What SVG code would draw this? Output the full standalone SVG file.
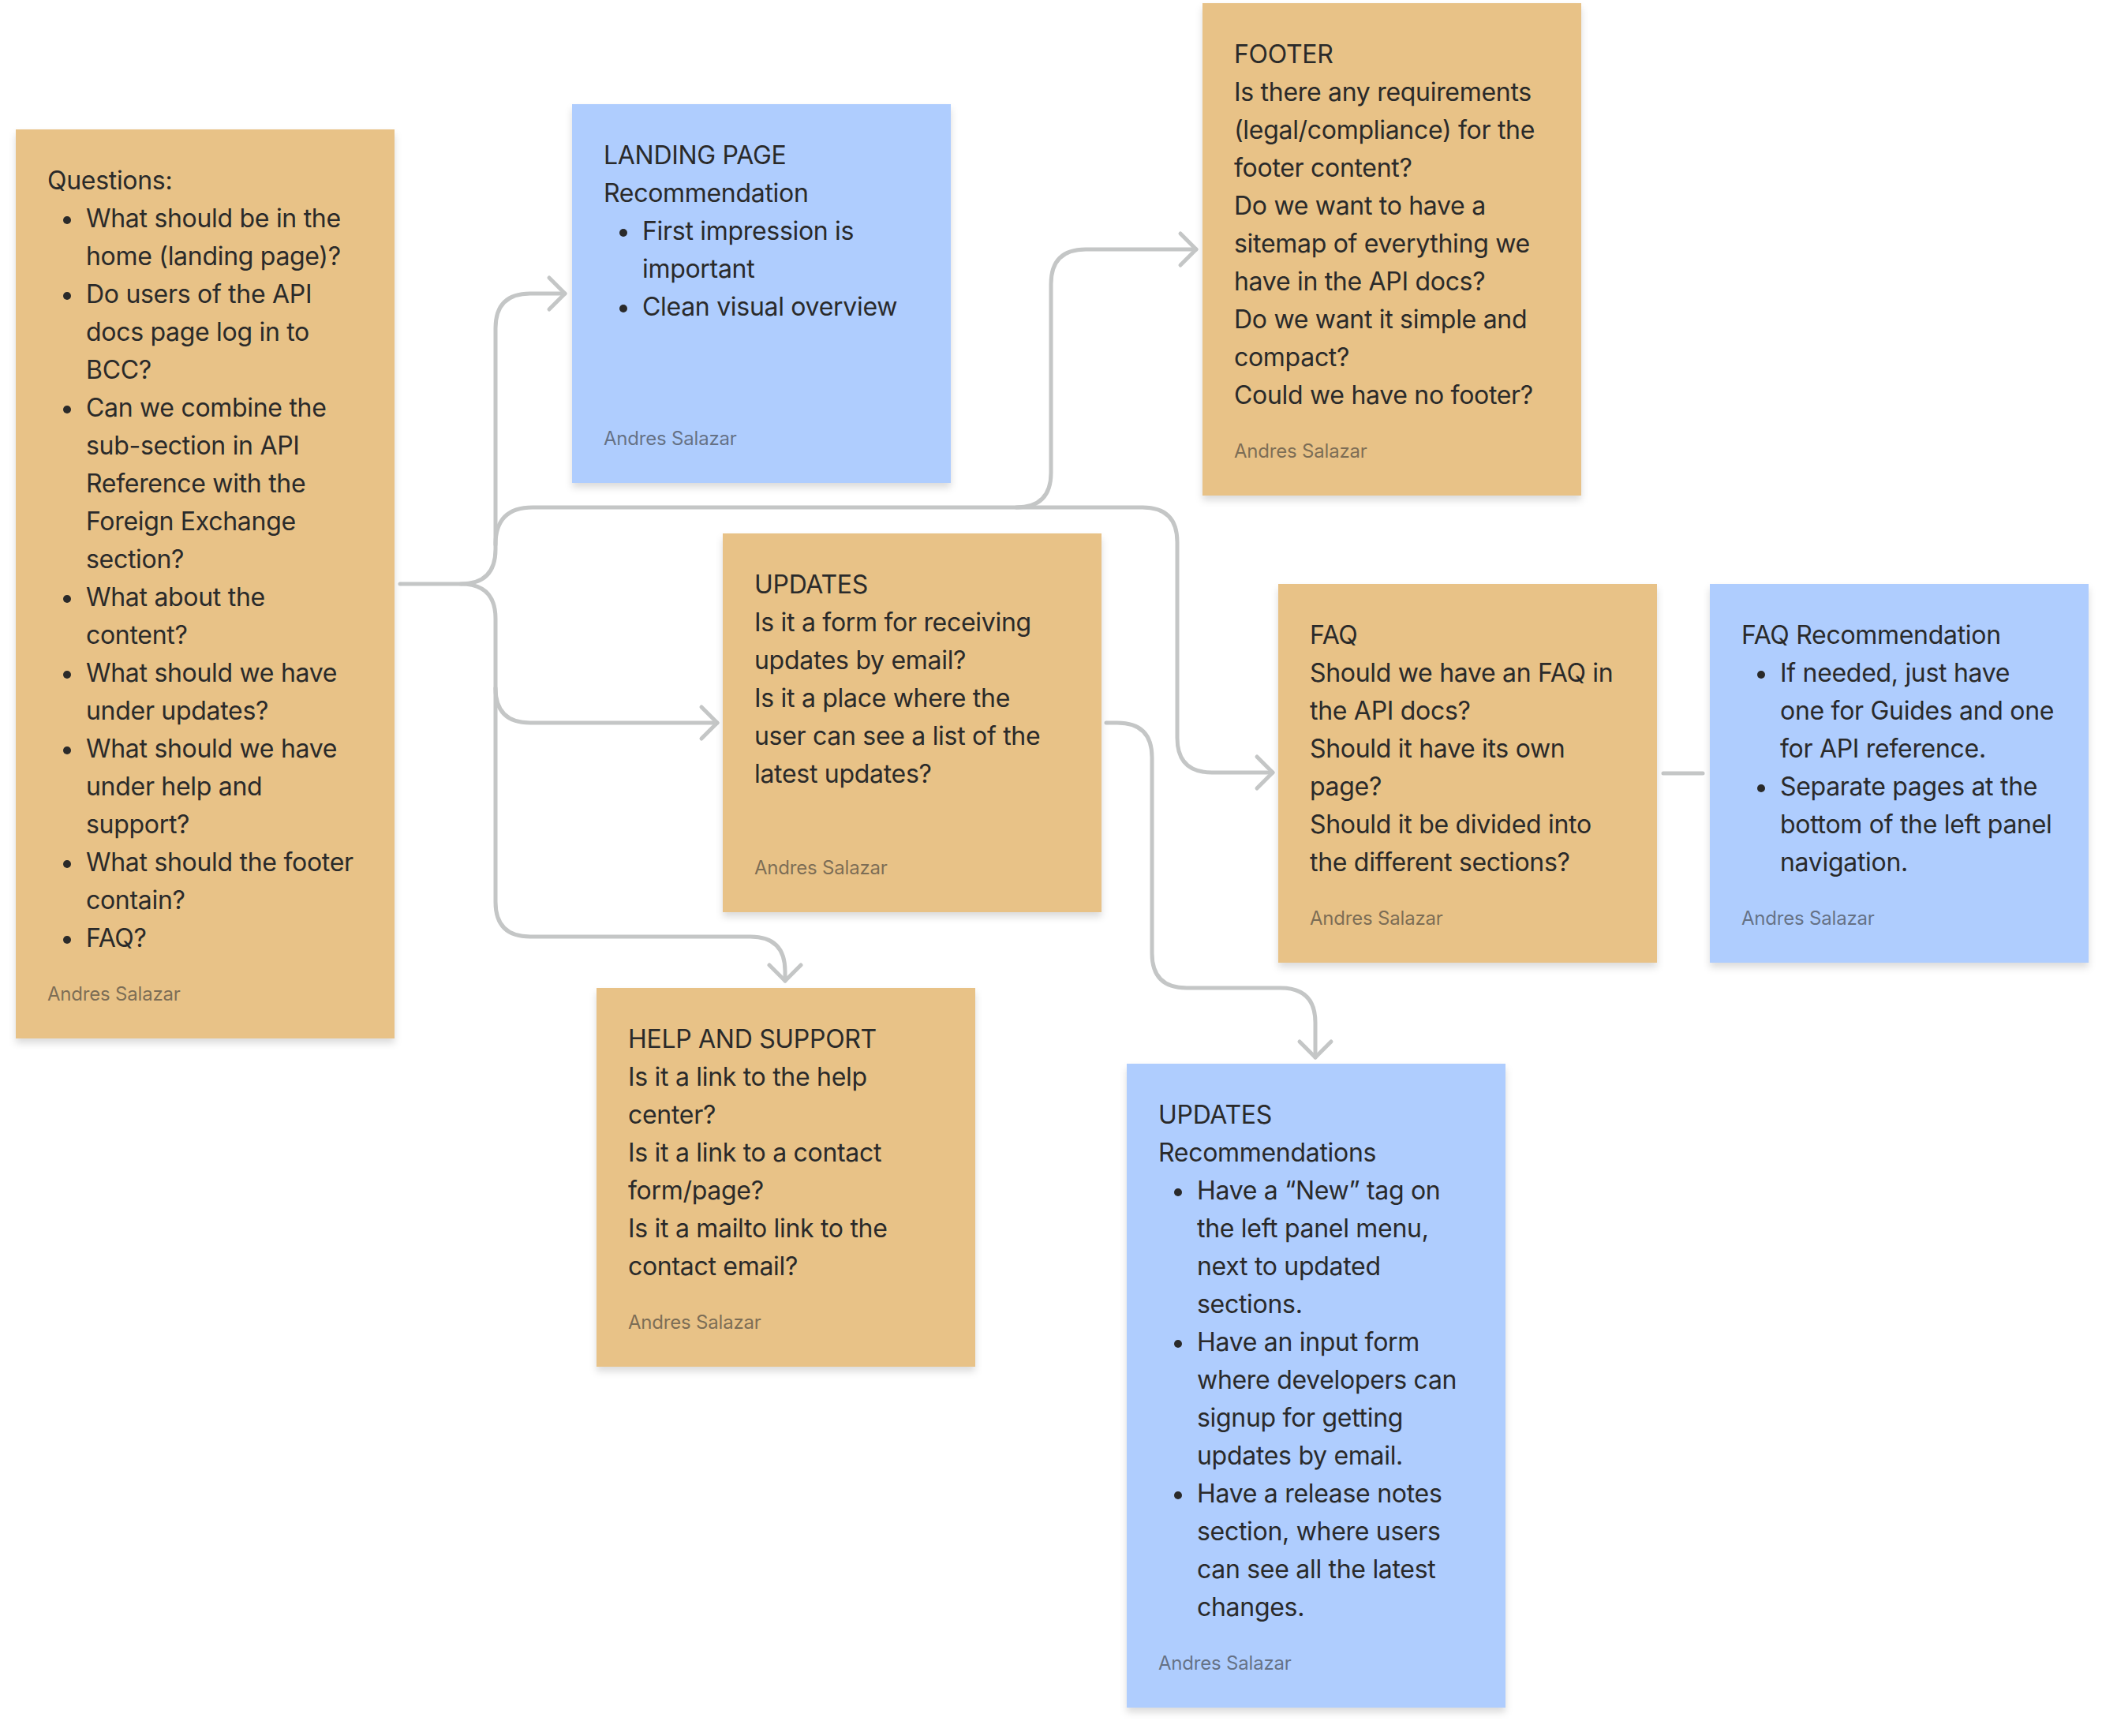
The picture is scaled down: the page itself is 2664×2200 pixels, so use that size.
<svg xmlns="http://www.w3.org/2000/svg" width="2664" height="2200" viewBox="0 0 2664 2200">
<style>
  .orange { fill: #E8C287; }
  .blue { fill: #AFCDFE; }
  .t { font-family: Inter, "Noto Sans", "Liberation Sans", sans-serif; font-size: 32px; letter-spacing: -0.3px; fill: #2a2a2a; }
  .a { font-family: Inter, "Noto Sans", "Liberation Sans", sans-serif; font-size: 24px; letter-spacing: -0.2px; fill: #333333; fill-opacity: 0.6; }
  .b { fill: #2a2a2a; }
  .c { fill: none; stroke: #C4C6C6; stroke-width: 5; stroke-linecap: round; stroke-linejoin: round; }
</style>
<defs>
  <filter id="sh" x="-10%" y="-10%" width="120%" height="125%">
    <feDropShadow dx="0" dy="6" stdDeviation="5" flood-color="#000" flood-opacity="0.14"/>
  </filter>
  <marker id="arr" markerUnits="userSpaceOnUse" viewBox="-26 -26 30 52" markerWidth="30" markerHeight="52" refX="0" refY="0" orient="auto" overflow="visible">
    <path d="M-20,-20 L0,0 L-20,20" fill="none" stroke="#C4C6C6" stroke-width="5" stroke-linecap="round" stroke-linejoin="round"/>
  </marker>
</defs>
<rect width="2664" height="2200" fill="#ffffff"/>

<g id="connectors">
  <path class="c" d="M507,740 H584 Q628,740 628,696 V416 Q628,372 672,372 H716" marker-end="url(#arr)"/>
  <path class="c" d="M584,740 Q628,740 628,784 V872 Q628,916 672,916 H909" marker-end="url(#arr)"/>
  <path class="c" d="M628,872 V1143 Q628,1187 672,1187 H951 Q995,1187 995,1231 V1243" marker-end="url(#arr)"/>
  <path class="c" d="M628,690 Q628,643 675,643 H1288 Q1332,643 1332,599 V360 Q1332,316 1376,316 H1516" marker-end="url(#arr)"/>
  <path class="c" d="M1288,643 H1448 Q1492,643 1492,687 V935 Q1492,979 1536,979 H1613" marker-end="url(#arr)"/>
  <path class="c" d="M1402,916 H1416 Q1460,916 1460,960 V1208 Q1460,1252 1504,1252 H1623 Q1667,1252 1667,1296 V1340" marker-end="url(#arr)"/>
  <path class="c" d="M2108,980 H2158"/>
</g>

<g id="questions">
  <rect class="orange" x="20" y="164" width="480" height="1152" filter="url(#sh)"/>
  <text class="t" x="60" y="240">Questions:</text>
  <g class="b">
    <circle cx="85" cy="279" r="5"/>
    <circle cx="85" cy="375" r="5"/>
    <circle cx="85" cy="519" r="5"/>
    <circle cx="85" cy="759" r="5"/>
    <circle cx="85" cy="855" r="5"/>
    <circle cx="85" cy="951" r="5"/>
    <circle cx="85" cy="1095" r="5"/>
    <circle cx="85" cy="1191" r="5"/>
  </g>
  <text class="t">
    <tspan x="109" y="288">What should be in the</tspan>
    <tspan x="109" y="336">home (landing page)?</tspan>
    <tspan x="109" y="384">Do users of the API</tspan>
    <tspan x="109" y="432">docs page log in to</tspan>
    <tspan x="109" y="480">BCC?</tspan>
    <tspan x="109" y="528">Can we combine the</tspan>
    <tspan x="109" y="576">sub-section in API</tspan>
    <tspan x="109" y="624">Reference with the</tspan>
    <tspan x="109" y="672">Foreign Exchange</tspan>
    <tspan x="109" y="720">section?</tspan>
    <tspan x="109" y="768">What about the</tspan>
    <tspan x="109" y="816">content?</tspan>
    <tspan x="109" y="864">What should we have</tspan>
    <tspan x="109" y="912">under updates?</tspan>
    <tspan x="109" y="960">What should we have</tspan>
    <tspan x="109" y="1008">under help and</tspan>
    <tspan x="109" y="1056">support?</tspan>
    <tspan x="109" y="1104">What should the footer</tspan>
    <tspan x="109" y="1152">contain?</tspan>
    <tspan x="109" y="1200">FAQ?</tspan>
  </text>
  <text class="a" x="60" y="1268">Andres Salazar</text>
</g>

<g id="landing-page">
  <rect class="blue" x="725" y="132" width="480" height="480" filter="url(#sh)"/>
  <text class="t">
    <tspan x="765" y="208">LANDING PAGE</tspan>
    <tspan x="765" y="256">Recommendation</tspan>
    <tspan x="814" y="304">First impression is</tspan>
    <tspan x="814" y="352">important</tspan>
    <tspan x="814" y="400">Clean visual overview</tspan>
  </text>
  <g class="b">
    <circle cx="790" cy="295" r="5"/>
    <circle cx="790" cy="391" r="5"/>
  </g>
  <text class="a" x="765" y="564">Andres Salazar</text>
</g>

<g id="footer">
  <rect class="orange" x="1524" y="4" width="480" height="624" filter="url(#sh)"/>
  <text class="t">
    <tspan x="1564" y="80">FOOTER</tspan>
    <tspan x="1564" y="128">Is there any requirements</tspan>
    <tspan x="1564" y="176">(legal/compliance) for the</tspan>
    <tspan x="1564" y="224">footer content?</tspan>
    <tspan x="1564" y="272">Do we want to have a</tspan>
    <tspan x="1564" y="320">sitemap of everything we</tspan>
    <tspan x="1564" y="368">have in the API docs?</tspan>
    <tspan x="1564" y="416">Do we want it simple and</tspan>
    <tspan x="1564" y="464">compact?</tspan>
    <tspan x="1564" y="512">Could we have no footer?</tspan>
  </text>
  <text class="a" x="1564" y="580">Andres Salazar</text>
</g>

<g id="updates-questions">
  <rect class="orange" x="916" y="676" width="480" height="480" filter="url(#sh)"/>
  <text class="t">
    <tspan x="956" y="752">UPDATES</tspan>
    <tspan x="956" y="800">Is it a form for receiving</tspan>
    <tspan x="956" y="848">updates by email?</tspan>
    <tspan x="956" y="896">Is it a place where the</tspan>
    <tspan x="956" y="944">user can see a list of the</tspan>
    <tspan x="956" y="992">latest updates?</tspan>
  </text>
  <text class="a" x="956" y="1108">Andres Salazar</text>
</g>

<g id="faq">
  <rect class="orange" x="1620" y="740" width="480" height="480" filter="url(#sh)"/>
  <text class="t">
    <tspan x="1660" y="816">FAQ</tspan>
    <tspan x="1660" y="864">Should we have an FAQ in</tspan>
    <tspan x="1660" y="912">the API docs?</tspan>
    <tspan x="1660" y="960">Should it have its own</tspan>
    <tspan x="1660" y="1008">page?</tspan>
    <tspan x="1660" y="1056">Should it be divided into</tspan>
    <tspan x="1660" y="1104">the different sections?</tspan>
  </text>
  <text class="a" x="1660" y="1172">Andres Salazar</text>
</g>

<g id="faq-recommendation">
  <rect class="blue" x="2167" y="740" width="480" height="480" filter="url(#sh)"/>
  <text class="t">
    <tspan x="2207" y="816">FAQ Recommendation</tspan>
    <tspan x="2256" y="864">If needed, just have</tspan>
    <tspan x="2256" y="912">one for Guides and one</tspan>
    <tspan x="2256" y="960">for API reference.</tspan>
    <tspan x="2256" y="1008">Separate pages at the</tspan>
    <tspan x="2256" y="1056">bottom of the left panel</tspan>
    <tspan x="2256" y="1104">navigation.</tspan>
  </text>
  <g class="b">
    <circle cx="2232" cy="855" r="5"/>
    <circle cx="2232" cy="999" r="5"/>
  </g>
  <text class="a" x="2207" y="1172">Andres Salazar</text>
</g>

<g id="help-and-support">
  <rect class="orange" x="756" y="1252" width="480" height="480" filter="url(#sh)"/>
  <text class="t">
    <tspan x="796" y="1328">HELP AND SUPPORT</tspan>
    <tspan x="796" y="1376">Is it a link to the help</tspan>
    <tspan x="796" y="1424">center?</tspan>
    <tspan x="796" y="1472">Is it a link to a contact</tspan>
    <tspan x="796" y="1520">form/page?</tspan>
    <tspan x="796" y="1568">Is it a mailto link to the</tspan>
    <tspan x="796" y="1616">contact email?</tspan>
  </text>
  <text class="a" x="796" y="1684">Andres Salazar</text>
</g>

<g id="updates-recommendations">
  <rect class="blue" x="1428" y="1348" width="480" height="816" filter="url(#sh)"/>
  <text class="t">
    <tspan x="1468" y="1424">UPDATES</tspan>
    <tspan x="1468" y="1472">Recommendations</tspan>
    <tspan x="1517" y="1520">Have a “New” tag on</tspan>
    <tspan x="1517" y="1568">the left panel menu,</tspan>
    <tspan x="1517" y="1616">next to updated</tspan>
    <tspan x="1517" y="1664">sections.</tspan>
    <tspan x="1517" y="1712">Have an input form</tspan>
    <tspan x="1517" y="1760">where developers can</tspan>
    <tspan x="1517" y="1808">signup for getting</tspan>
    <tspan x="1517" y="1856">updates by email.</tspan>
    <tspan x="1517" y="1904">Have a release notes</tspan>
    <tspan x="1517" y="1952">section, where users</tspan>
    <tspan x="1517" y="2000">can see all the latest</tspan>
    <tspan x="1517" y="2048">changes.</tspan>
  </text>
  <g class="b">
    <circle cx="1493" cy="1511" r="5"/>
    <circle cx="1493" cy="1703" r="5"/>
    <circle cx="1493" cy="1895" r="5"/>
  </g>
  <text class="a" x="1468" y="2116">Andres Salazar</text>
</g>
</svg>
